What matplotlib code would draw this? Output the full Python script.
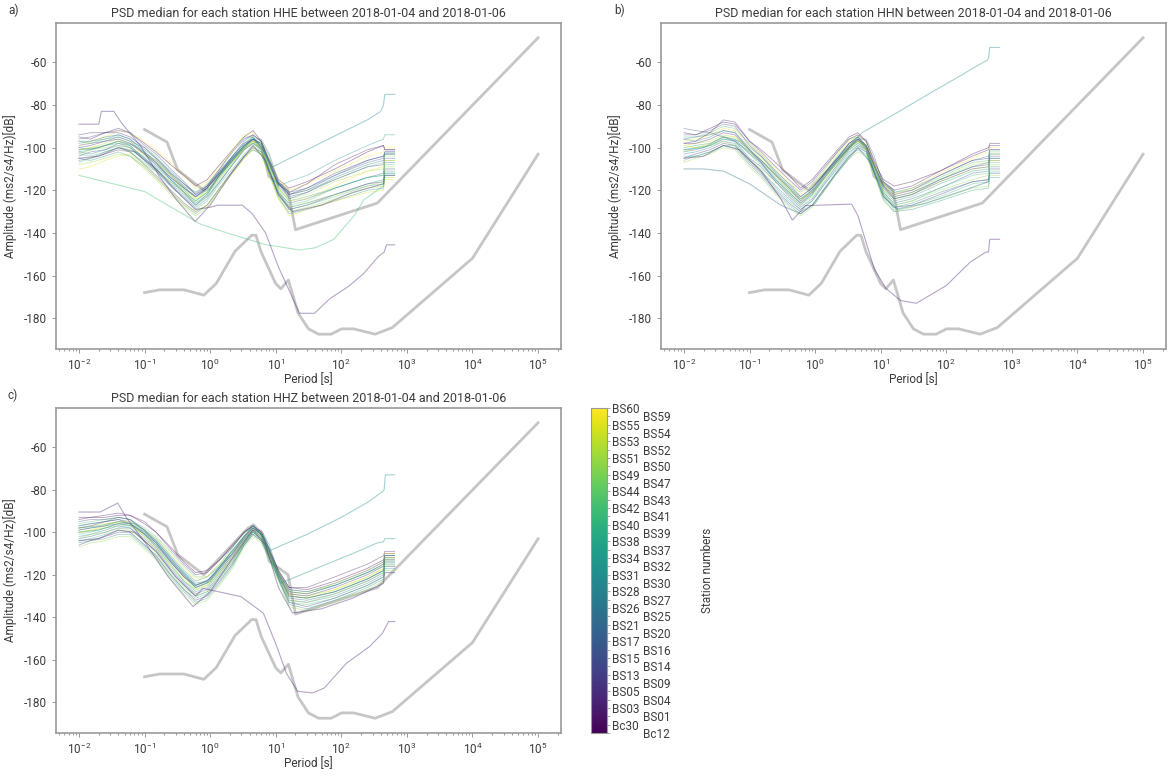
import numpy as np
import matplotlib
matplotlib.use('Agg')
import matplotlib.pyplot as plt
from matplotlib import colors

plt.rcParams['font.family'] = ['Roboto', 'DejaVu Sans']
plt.rcParams['axes.unicode_minus'] = False
plt.rcParams['mathtext.fontset'] = 'custom'
plt.rcParams['mathtext.rm'] = 'Roboto'
plt.rcParams['mathtext.it'] = 'Roboto:italic'
plt.rcParams['mathtext.bf'] = 'Roboto:bold'

# ==================== Peterson noise models ====================
NLNM_PERIOD = [0.1, 0.17, 0.4, 0.8, 1.24, 2.4, 4.3, 5.0, 6.0, 10.0, 12.0, 15.6, 21.9,
               31.6, 45.0, 70.0, 101.0, 154.0, 328.0, 600.0, 10000, 100000]
NLNM_DB = [-168.0, -166.7, -166.7, -169.2, -163.7, -148.6, -141.1, -141.1, -149.0, -163.8,
           -166.2, -162.1, -177.5, -185.0, -187.5, -187.5, -185.0, -185.0, -187.5, -184.4,
           -151.9, -103.1]
NHNM_PERIOD = [0.1, 0.22, 0.32, 0.8, 3.8, 4.6, 6.3, 7.9, 15.4, 20.0, 354.8, 100000]
NHNM_DB = [-91.5, -97.4, -110.5, -120.0, -98.0, -96.5, -101.0, -113.5, -120.0, -138.5, -126.0, -48.5]

# ==================== station medians (common period grid) ====================
PERIOD = [0.01, 0.015, 0.025, 0.04, 0.06, 0.1, 0.15, 0.25, 0.4, 0.6, 0.9, 1.4, 2.2, 3.3,
          4.5, 6, 8, 11, 16, 30, 80, 250, 440, 460, 650]
PERIOD_TICKS = [1e-2, 1e-1, 1e0, 1e1, 1e2, 1e3, 1e4, 1e5]

HHE_ROWS = [
    [-95, -96, -93, -91, -93, -98, -102, -108, -113, -118, -115, -108, -101, -95, -92, -97, -106, -115, -119, -116, -110, -102, -99, -101, -101],
    [-98, -97, -96, -94, -96, -101, -105, -111, -117, -121, -118, -111, -104, -98, -95, -99, -108, -117, -121, -119, -113, -106, -104, -102, -102],
    [-101, -100, -98, -96, -98, -103, -107, -113, -119, -124, -120, -113, -106, -100, -97, -100, -109, -119, -124, -122, -116, -111, -110, -104, -104],
    [-104, -102, -101, -98, -99, -105, -110, -117, -122, -127, -123, -116, -108, -101, -98, -101, -111, -121, -126, -124, -119, -114, -112, -107, -107],
    [-97, -98, -96, -95, -97, -100, -104, -112, -118, -121, -117, -110, -101, -95, -95, -101, -109, -117, -122, -120, -115, -109, -107, -103, -103],
    [-106, -105, -103, -101, -102, -108, -113, -120, -126, -130, -127, -119, -111, -104, -100, -102, -112, -122, -129, -127, -122, -117, -116, -110, -110],
    [-100, -101, -99, -97, -99, -106, -110, -116, -121, -126, -122, -114, -106, -99, -96, -99, -108, -119, -125, -123, -119, -114, -113, -106, -106],
    [-99, -97, -95, -92, -93, -97, -101, -107, -113, -119, -116, -109, -101, -94, -93, -98, -105, -114, -120, -117, -111, -104, -102, -100, -100],
    [-102, -103, -101, -99, -100, -106, -111, -118, -123, -128, -124, -116, -108, -101, -98, -100, -110, -121, -128, -126, -122, -117, -115, -111, -111],
    [-108, -107, -105, -103, -104, -110, -115, -122, -128, -132, -128, -120, -112, -105, -101, -103, -113, -124, -130, -128, -124, -119, -118, -114, -114],
    [-96, -95, -93, -92, -93, -99, -103, -110, -116, -122, -119, -112, -104, -97, -94, -97, -107, -117, -122, -120, -113, -107, -105, -103, -103],
    [-103, -104, -102, -100, -101, -104, -108, -115, -121, -125, -121, -113, -106, -100, -98, -97, -104, -120, -127, -125, -119, -114, -113, -108, -108],
    [-100, -99, -97, -96, -98, -103, -107, -114, -119, -123, -119, -112, -105, -99, -96, -98, -107, -117, -122, -119, -112, -106, -104, -102, -102],
    [-105, -106, -104, -102, -104, -109, -114, -121, -127, -131, -127, -119, -111, -104, -101, -103, -112, -123, -131, -129, -125, -120, -119, -113, -113],
    [-101, -100, -99, -97, -100, -103, -106, -113, -120, -124, -121, -114, -107, -100, -97, -100, -109, -119, -125, -124, -118, -111, -109, -106, -106],
    [-97, -97, -95, -94, -96, -102, -107, -115, -121, -127, -122, -113, -106, -100, -96, -96, -103, -116, -124, -121, -114, -108, -106, -103, -103],
    [-103, -101, -100, -99, -102, -108, -111, -116, -121, -126, -123, -115, -107, -101, -98, -101, -110, -121, -128, -126, -122, -118, -116, -109, -109],
    [-99, -98, -97, -95, -97, -103, -108, -114, -119, -123, -119, -111, -104, -98, -96, -98, -107, -118, -123, -121, -115, -109, -108, -105, -105],
    [-107, -105, -102, -100, -102, -107, -111, -118, -124, -129, -125, -117, -110, -103, -99, -102, -111, -122, -129, -127, -123, -118, -117, -112, -112],
    [-94, -93, -93, -93, -95, -100, -105, -112, -117, -122, -118, -110, -102, -96, -94, -97, -106, -116, -121, -117, -108, -101, -99, -101, -101],
    [-102, -101, -99, -98, -100, -105, -109, -115, -120, -125, -121, -113, -105, -99, -96, -99, -108, -118, -116, -113, -106, -99, -96, -94, -94],
    [-110, -109, -106, -104, -103, -109, -114, -121, -127, -130, -127, -119, -112, -105, -100, -103, -113, -124, -132, -129, -125, -121, -120, -115, -115],
]

HHN_ROWS = [
    [-93, -94, -91, -88, -89, -97, -101, -107, -113, -119, -115, -108, -101, -95, -93, -97, -107, -115, -118, -116, -111, -103, -100, -98, -98],
    [-96, -97, -95, -92, -93, -100, -104, -111, -117, -123, -119, -112, -104, -98, -95, -99, -109, -117, -121, -119, -113, -106, -104, -101, -101],
    [-99, -98, -97, -94, -95, -102, -106, -113, -120, -125, -121, -114, -106, -99, -96, -100, -110, -119, -123, -121, -115, -108, -107, -103, -103],
    [-102, -101, -99, -96, -97, -105, -109, -116, -123, -128, -124, -116, -108, -101, -98, -101, -111, -121, -126, -124, -119, -112, -111, -106, -106],
    [-95, -95, -93, -90, -91, -98, -103, -111, -117, -121, -117, -110, -102, -96, -95, -100, -109, -116, -121, -120, -114, -107, -106, -102, -102],
    [-105, -103, -101, -98, -99, -107, -112, -120, -126, -130, -127, -119, -111, -104, -100, -102, -112, -123, -128, -127, -122, -116, -115, -110, -110],
    [-100, -99, -98, -95, -96, -103, -108, -115, -121, -126, -122, -114, -106, -100, -97, -100, -109, -120, -125, -123, -117, -111, -110, -105, -105],
    [-97, -96, -94, -91, -92, -99, -103, -110, -116, -122, -118, -111, -103, -97, -94, -98, -107, -117, -122, -119, -112, -105, -102, -100, -100],
    [-103, -102, -100, -97, -98, -106, -111, -118, -124, -129, -125, -117, -109, -102, -99, -101, -111, -122, -128, -126, -121, -116, -115, -109, -109],
    [-107, -105, -103, -100, -101, -109, -114, -122, -128, -132, -128, -120, -112, -105, -102, -104, -113, -125, -130, -128, -124, -119, -118, -113, -113],
    [-94, -94, -92, -89, -90, -99, -104, -112, -118, -123, -119, -112, -105, -98, -96, -99, -108, -118, -123, -121, -115, -109, -108, -104, -104],
    [-101, -100, -99, -96, -97, -103, -107, -114, -120, -124, -121, -114, -106, -100, -97, -99, -109, -121, -127, -125, -119, -113, -112, -107, -107],
    [-98, -98, -96, -93, -94, -101, -106, -113, -119, -125, -120, -112, -105, -98, -95, -99, -108, -118, -122, -120, -113, -106, -105, -101, -101],
    [-104, -104, -102, -99, -100, -108, -113, -121, -127, -131, -127, -119, -111, -104, -101, -103, -112, -124, -130, -129, -125, -120, -119, -114, -114],
    [-99, -100, -98, -95, -95, -101, -105, -113, -119, -124, -121, -114, -107, -100, -97, -100, -109, -120, -124, -122, -116, -110, -109, -106, -106],
    [-96, -95, -94, -92, -93, -101, -107, -116, -122, -127, -122, -114, -107, -100, -96, -96, -104, -118, -124, -122, -115, -109, -107, -103, -103],
    [-102, -100, -99, -97, -99, -106, -110, -116, -122, -127, -123, -115, -108, -101, -98, -101, -110, -121, -127, -125, -120, -115, -113, -108, -108],
    [-91, -92, -93, -95, -97, -102, -107, -115, -121, -126, -121, -113, -106, -100, -96, -100, -109, -119, -124, -122, -116, -110, -109, -105, -105],
    [-106, -104, -102, -99, -99, -106, -111, -119, -125, -129, -125, -117, -110, -103, -99, -102, -111, -122, -129, -127, -123, -117, -116, -111, -111],
    [-98, -97, -93, -87, -88, -97, -102, -109, -115, -120, -116, -109, -102, -96, -94, -97, -106, -116, -120, -118, -111, -104, -101, -99, -99],
]

HHZ_ROWS = [
    [-94, -93, -93, -92, -92, -96, -100, -107, -114, -119, -118, -113, -106, -100, -97, -100, -108, -118, -126, -127, -123, -117, -113, -110, -110],
    [-97, -96, -95, -94, -95, -99, -103, -111, -118, -123, -121, -116, -109, -102, -98, -101, -109, -119, -128, -129, -125, -119, -115, -111, -111],
    [-100, -99, -98, -96, -97, -101, -106, -114, -121, -126, -124, -118, -111, -103, -99, -102, -110, -120, -129, -130, -127, -121, -117, -113, -113],
    [-103, -102, -100, -98, -98, -103, -108, -117, -124, -129, -127, -120, -113, -105, -100, -103, -111, -121, -131, -132, -129, -123, -119, -114, -114],
    [-96, -95, -94, -93, -94, -98, -102, -109, -116, -121, -121, -115, -107, -100, -98, -101, -109, -119, -127, -128, -125, -119, -116, -112, -112],
    [-106, -104, -102, -100, -100, -106, -111, -120, -127, -132, -130, -123, -115, -106, -101, -104, -112, -122, -133, -135, -131, -125, -121, -116, -116],
    [-99, -98, -97, -95, -96, -101, -107, -115, -123, -128, -126, -119, -112, -104, -99, -102, -110, -120, -130, -131, -128, -122, -118, -114, -114],
    [-98, -97, -96, -95, -95, -99, -103, -110, -117, -122, -121, -115, -109, -102, -98, -101, -109, -119, -128, -129, -124, -118, -114, -110, -110],
    [-102, -101, -99, -97, -98, -104, -109, -118, -125, -130, -128, -121, -114, -105, -100, -103, -111, -121, -132, -133, -130, -124, -120, -115, -115],
    [-107, -105, -104, -102, -102, -108, -113, -122, -129, -134, -132, -125, -117, -107, -102, -105, -113, -123, -135, -137, -133, -127, -123, -118, -118],
    [-95, -94, -94, -93, -94, -99, -105, -113, -120, -125, -123, -116, -110, -102, -98, -101, -109, -119, -127, -128, -124, -118, -114, -111, -111],
    [-101, -100, -98, -97, -97, -102, -107, -116, -123, -127, -125, -119, -112, -104, -99, -101, -110, -120, -130, -131, -128, -122, -118, -113, -113],
    [-98, -97, -95, -94, -96, -101, -106, -114, -121, -125, -123, -117, -110, -103, -98, -101, -109, -120, -129, -130, -126, -120, -116, -112, -112],
    [-105, -104, -103, -101, -101, -107, -112, -121, -128, -133, -131, -124, -116, -106, -101, -104, -112, -122, -134, -136, -132, -126, -122, -117, -117],
    [-100, -99, -97, -95, -96, -102, -108, -116, -122, -127, -125, -119, -112, -104, -99, -102, -110, -120, -130, -131, -127, -121, -117, -112, -112],
    [-97, -96, -95, -93, -94, -99, -104, -112, -119, -124, -123, -117, -110, -103, -99, -99, -106, -119, -128, -129, -125, -119, -115, -111, -111],
    [-103, -101, -100, -98, -99, -104, -110, -119, -126, -130, -128, -121, -114, -105, -100, -103, -111, -121, -132, -133, -129, -123, -119, -115, -115],
    [-99, -98, -97, -96, -96, -100, -105, -114, -121, -126, -124, -118, -111, -104, -99, -102, -110, -120, -130, -131, -128, -122, -118, -113, -113],
    [-104, -103, -101, -99, -100, -106, -111, -120, -127, -131, -129, -122, -115, -106, -100, -103, -111, -122, -133, -134, -131, -125, -121, -116, -116],
    [-93, -93, -92, -91, -92, -95, -100, -108, -115, -120, -119, -113, -107, -100, -97, -100, -108, -118, -126, -126, -121, -115, -111, -109, -109],
]

# ==================== outlying stations ====================
HHE_TOP_P = [0.01, 0.02, 0.022, 0.034, 0.045, 0.086, 0.17, 0.31, 0.59, 1.0, 2.0, 4.5, 7, 11, 18, 50, 150, 440, 460, 650]
HHE_TOP_DB = [-89, -89, -83, -83, -88.6, -99, -113.6, -124.6, -134.7, -127, -113, -99, -106, -122, -130, -127, -121, -117, -113, -113]
HHE_MINT_P = [0.01, 0.1, 0.7, 1.8, 7, 23, 40, 77, 160, 220, 440, 460, 650]
HHE_MINT_DB = [-113, -120.6, -135.8, -140, -145.5, -148, -147, -143, -131.6, -124.5, -118, -112, -112]
HHE_TEAL_P = [0.01, 0.02, 0.04, 0.07, 0.15, 0.3, 0.6, 1.0, 2.0, 4.5, 6, 9, 30, 100, 250, 400, 440, 460, 650]
HHE_TEAL_DB = [-101, -100, -97, -99, -106, -115, -123, -119, -106, -95, -100, -109, -101, -93, -87, -83, -80, -75, -75]
HHE_LOW_P = [0.01, 0.02, 0.04, 0.07, 0.15, 0.3, 0.6, 1.0, 1.3, 3.1, 4.4, 7, 11, 15, 23, 39, 66, 130, 220, 370, 450, 490, 650]
HHE_LOW_DB = [-105, -104, -100, -102, -110, -120, -129, -128, -127, -127, -131, -140, -156, -165, -177.7, -177.7, -171, -165, -159, -151, -149, -145.6, -145.6]

HHN_TEAL_P = [0.01, 0.02, 0.04, 0.07, 0.15, 0.3, 0.6, 1.0, 2.0, 4.5, 5.2, 18, 60, 150, 300, 420, 440, 460, 650]
HHN_TEAL_DB = [-101, -100, -95, -97, -106, -115, -124, -119, -106, -95, -93, -83.5, -74, -67, -61.5, -59, -58, -53, -53]
HHN_LOW_P = [0.01, 0.02, 0.04, 0.07, 0.15, 0.3, 0.45, 0.72, 3.6, 4.5, 8, 12, 20, 35, 100, 230, 400, 440, 460, 650]
HHN_LOW_DB = [-105, -104, -99, -101, -111, -124, -134, -127.2, -126.5, -132, -157, -166, -171.7, -173, -164.7, -153.8, -149, -149, -143, -143]
HHN_BLUE_P = [0.01, 0.02, 0.04, 0.1, 0.3, 0.6, 1.0, 2.0, 4.5, 7, 11, 18, 50, 150, 440, 460, 650]
HHN_BLUE_DB = [-110, -110, -111, -117, -127, -131, -126, -113, -100, -107, -123, -129, -126, -121, -116, -112, -112]

HHZ_TOP_P = [0.01, 0.021, 0.039, 0.052, 0.1, 0.23, 0.55, 1.0, 2.0, 4.5, 7, 11, 18, 50, 150, 440, 460, 650]
HHZ_TOP_DB = [-90.5, -90.5, -86.3, -92.8, -104.5, -121, -135, -128, -114, -99, -106, -126, -138, -136, -131, -124, -119, -119]
HHZ_TEAL_P = [0.01, 0.02, 0.04, 0.07, 0.15, 0.3, 0.6, 1.0, 2.0, 4.5, 6, 8.3, 30, 100, 250, 420, 450, 470, 650]
HHZ_TEAL_DB = [-100, -99, -96, -97, -105, -116, -126, -123, -110, -97, -101, -108.5, -101, -93, -86, -81, -80, -73, -73]
HHZ_TEAL2_P = [0.01, 0.02, 0.04, 0.07, 0.15, 0.3, 0.6, 1.0, 2.0, 4.5, 7, 11.8, 50, 150, 355, 440, 460, 650]
HHZ_TEAL2_DB = [-98, -97, -95, -96, -104, -115, -125, -122, -110, -97, -103, -124, -116, -110, -105, -104.5, -103, -103]
HHZ_LOW_P = [0.01, 0.02, 0.04, 0.07, 0.15, 0.3, 0.6, 0.78, 2.95, 6.5, 10.4, 14.5, 21.5, 36.5, 55, 120, 270, 425, 525, 650]
HHZ_LOW_DB = [-104, -103, -99, -100, -109, -121, -130, -126.4, -130.3, -138.1, -153.75, -166.25, -174.8, -175.6, -173.3, -161.6, -153.75, -147.5, -142, -142]

# stations (colourbar, bottom -> top)
STATIONS = ['Bc12', 'Bc30', 'BS01', 'BS03', 'BS04', 'BS05', 'BS09', 'BS13', 'BS14', 'BS15',
            'BS16', 'BS17', 'BS20', 'BS21', 'BS25', 'BS26', 'BS27', 'BS28', 'BS30', 'BS31',
            'BS32', 'BS34', 'BS37', 'BS38', 'BS39', 'BS40', 'BS41', 'BS42', 'BS43', 'BS44',
            'BS47', 'BS49', 'BS50', 'BS51', 'BS52', 'BS53', 'BS54', 'BS55', 'BS59', 'BS60']

START, END = '2018-01-04', '2018-01-06'

# ==================== plotting ====================
cmap = plt.get_cmap('viridis')
norm = colors.Normalize(vmin=0, vmax=len(STATIONS) - 1)
MODEL_COLOR = '#c6c6c6'
TXT = '#3c3c3c'
FS = 8.5

fig = plt.figure(figsize=(11.74, 7.76), dpi=100)
W, H = 1174, 776


def box(x0, y0, x1, y1):
    return [x0 / W, 1 - y1 / H, (x1 - x0) / W, (y1 - y0) / H]


def draw_panel(ax, chan, rows, specials, letter, letter_x):
    ax.set_xscale('log')
    ax.plot(NHNM_PERIOD, NHNM_DB, color=MODEL_COLOR, lw=2.0, zorder=1)
    ax.plot(NLNM_PERIOD, NLNM_DB, color=MODEL_COLOR, lw=2.0, zorder=1)
    for i, row in enumerate(rows):
        idx = (i * 17) % len(STATIONS)
        ax.plot(PERIOD, row, color=cmap(norm(idx)), lw=0.6, alpha=0.4, zorder=2)
    for per, db, idx in specials:
        ax.plot(per, db, color=cmap(norm(idx)), lw=0.8, alpha=0.4, zorder=2)
    ax.set_xticks(PERIOD_TICKS)
    ax.set_title(f'PSD median for each station {chan} between {START} and {END}',
                 fontsize=9, color=TXT, pad=4)
    ax.set_xlabel('Period [s]', fontsize=FS, color=TXT, labelpad=0)
    ax.set_ylabel('Amplitude (ms2/s4/Hz)[dB]', fontsize=FS, color=TXT)
    ax.yaxis.set_label_coords(-0.078, 0.5)
    for s in ax.spines.values():
        s.set_color('0.6')
        s.set_linewidth(1.2)
    ax.tick_params(which='both', colors='0.6', labelcolor=TXT, labelsize=FS, width=0.7)
    ax.tick_params(which='major', length=3)
    ax.tick_params(which='minor', length=1.5)
    pos = ax.get_position()
    fig.text(letter_x / W, pos.y1 + 13 / H, letter, fontsize=FS, color=TXT, va='center')


ax_a = fig.add_axes(box(56, 23, 561, 349))
ax_b = fig.add_axes(box(661, 23, 1166, 349))
ax_c = fig.add_axes(box(56, 408, 561, 733))
cax = fig.add_axes(box(591, 408, 607, 733))

draw_panel(ax_a, 'HHE', HHE_ROWS,
           [(HHE_TOP_P, HHE_TOP_DB, 4), (HHE_MINT_P, HHE_MINT_DB, 27),
            (HHE_TEAL_P, HHE_TEAL_DB, 19), (HHE_LOW_P, HHE_LOW_DB, 3)], 'a)', 8)
draw_panel(ax_b, 'HHN', HHN_ROWS,
           [(HHN_TEAL_P, HHN_TEAL_DB, 19), (HHN_LOW_P, HHN_LOW_DB, 3),
            (HHN_BLUE_P, HHN_BLUE_DB, 14)], 'b)', 614)
draw_panel(ax_c, 'HHZ', HHZ_ROWS,
           [(HHZ_TOP_P, HHZ_TOP_DB, 4), (HHZ_TEAL_P, HHZ_TEAL_DB, 19),
            (HHZ_TEAL2_P, HHZ_TEAL2_DB, 21), (HHZ_LOW_P, HHZ_LOW_DB, 3)], 'c)', 8)

# colourbar with station names, alternating columns
sm = plt.cm.ScalarMappable(norm=norm, cmap=cmap)
cb = fig.colorbar(sm, cax=cax)
cb.outline.set_edgecolor('0.6')
cb.outline.set_linewidth(0.8)
cb.set_ticks(np.arange(len(STATIONS)), labels=STATIONS)
cax.tick_params(colors='0.6', labelcolor=TXT, labelsize=FS, length=2, width=0.6, pad=1.5)
for i, tick in enumerate(cax.yaxis.get_major_ticks()):
    if i % 2 == 0:
        tick.set_pad(24)
cb.set_label('Station numbers', fontsize=FS, color=TXT, labelpad=22)

fig.savefig('out.png', dpi=100)
